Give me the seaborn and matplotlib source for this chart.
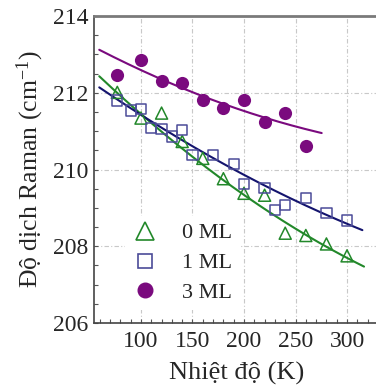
import numpy as np
import pandas as pd
import matplotlib
matplotlib.use("Agg")
import matplotlib.pyplot as plt
from matplotlib.lines import Line2D
from matplotlib.ticker import MultipleLocator
import seaborn as sns

sns.set_theme(style="white")
plt.rcParams["font.family"] = ["Liberation Serif", "DejaVu Serif"]
plt.rcParams["mathtext.fontset"] = "custom"
plt.rcParams["mathtext.rm"] = "Liberation Serif"
plt.rcParams["mathtext.it"] = "Liberation Serif:italic"

# Raman shift vs temperature for three coverages
t_0ml = [77, 100, 120, 140, 160, 180, 200, 220, 240, 260, 280, 300]
w_0ml = [212.01, 211.34, 211.47, 210.73, 210.29, 209.76, 209.38, 209.33, 208.34, 208.28, 208.06, 207.75]

t_1ml = [77, 90, 100, 110, 120, 130, 140, 150, 170, 190, 200, 220, 230, 240, 260, 280, 300]
w_1ml = [211.80, 211.54, 211.58, 211.09, 211.06, 210.86, 211.03, 210.37, 210.38, 210.15,
         209.63, 209.52, 208.94, 209.08, 209.25, 208.86, 208.67]

t_3ml = [77, 100, 120, 140, 160, 180, 200, 220, 240, 260]
w_3ml = [212.46, 212.86, 212.30, 212.26, 211.81, 211.61, 211.80, 211.25, 211.48, 210.61]

# knots of the fitted trend curves (quadratic through them)
fit_t_0ml = [59.5, 199.3, 316.5]
fit_w_0ml = [212.43, 209.35, 207.47]
fit_t_1ml = [59.5, 199.3, 314.9]
fit_w_1ml = [212.14, 209.87, 208.42]
fit_t_3ml = [59.5, 180.0, 275.4]
fit_w_3ml = [213.12, 211.71, 210.95]

labels = ["0 ML", "1 ML", "3 ML"]
x_ticks = [100, 150, 200, 250, 300]
y_ticks = [206, 208, 210, 212, 214]

green = "#22882a"
square_col = "#4b4b98"
blue_line = "#14146e"
purple = "#7a0a7e"

fig = plt.figure(figsize=(3.76, 3.88), dpi=100)
ax = fig.add_axes([94 / 376, 65 / 388, 286 / 376, 307 / 388])


def fit_frame(tk, wk):
    coef = np.polyfit(tk, wk, 2)
    tt = np.linspace(tk[0], tk[-1], 200)
    return pd.DataFrame({"T": tt, "w": np.polyval(coef, tt)})


for tk, wk, col in [(fit_t_0ml, fit_w_0ml, green),
                    (fit_t_1ml, fit_w_1ml, blue_line),
                    (fit_t_3ml, fit_w_3ml, purple)]:
    sns.lineplot(data=fit_frame(tk, wk), x="T", y="w", color=col, lw=1.5, ax=ax, zorder=2)

df0 = pd.DataFrame({"T": t_0ml, "w": w_0ml})
df1 = pd.DataFrame({"T": t_1ml, "w": w_1ml})
df3 = pd.DataFrame({"T": t_3ml, "w": w_3ml})

sns.scatterplot(data=df0, x="T", y="w", marker="^", s=75, facecolor="none",
                edgecolor=green, linewidth=1.1, ax=ax, zorder=3)
sns.scatterplot(data=df1, x="T", y="w", marker="s", s=55, facecolor="none",
                edgecolor=square_col, linewidth=1.1, ax=ax, zorder=3)
sns.scatterplot(data=df3, x="T", y="w", marker="o", s=90, color=purple,
                edgecolor=purple, linewidth=0, ax=ax, zorder=3)

ax.set_xlim(54.4, 332)
ax.set_ylim(206, 214)
ax.set_xticks(x_ticks)
ax.set_yticks(y_ticks)
ax.xaxis.set_minor_locator(MultipleLocator(10))
ax.yaxis.set_minor_locator(MultipleLocator(0.5))
ax.tick_params(axis="both", which="both", direction="in", length=3, width=0.8,
               color="#555555", labelsize=17, pad=4)
ax.tick_params(axis="x", which="both", top=False, bottom=True, pad=6)
ax.tick_params(axis="y", which="both", left=True, right=False)

ax.grid(True, which="major", color="#c8c8c8", linestyle=(0, (4, 2, 1, 2)), linewidth=0.8)
for side in ["left", "bottom"]:
    ax.spines[side].set_color("#444444")
    ax.spines[side].set_linewidth(1.2)
ax.spines["top"].set_color("#7a7a7a")
ax.spines["top"].set_linewidth(2.0)
ax.spines["right"].set_visible(False)

ax.set_xlabel("Nhiệt độ (K)", fontsize=19, labelpad=7)
ax.set_ylabel(r"Độ dịch Raman (cm$^{-1}$)", fontsize=18.5, labelpad=5)

handles = [
    Line2D([], [], marker="^", ls="none", markersize=13, markerfacecolor="none",
           markeredgecolor=green, markeredgewidth=1.2),
    Line2D([], [], marker="s", ls="none", markersize=10, markerfacecolor="none",
           markeredgecolor=square_col, markeredgewidth=1.2),
    Line2D([], [], marker="o", ls="none", markersize=10.5, markerfacecolor=purple,
           markeredgecolor=purple),
]
leg = ax.legend(handles, labels, loc="upper left", bbox_to_anchor=(0.068, 0.384),
                fontsize=16, frameon=True, framealpha=1, edgecolor="none",
                handlelength=1.2, handletextpad=1.09, labelspacing=0.42, borderpad=0.3)
leg.get_frame().set_facecolor("white")

fig.savefig("out.png", dpi=100)
